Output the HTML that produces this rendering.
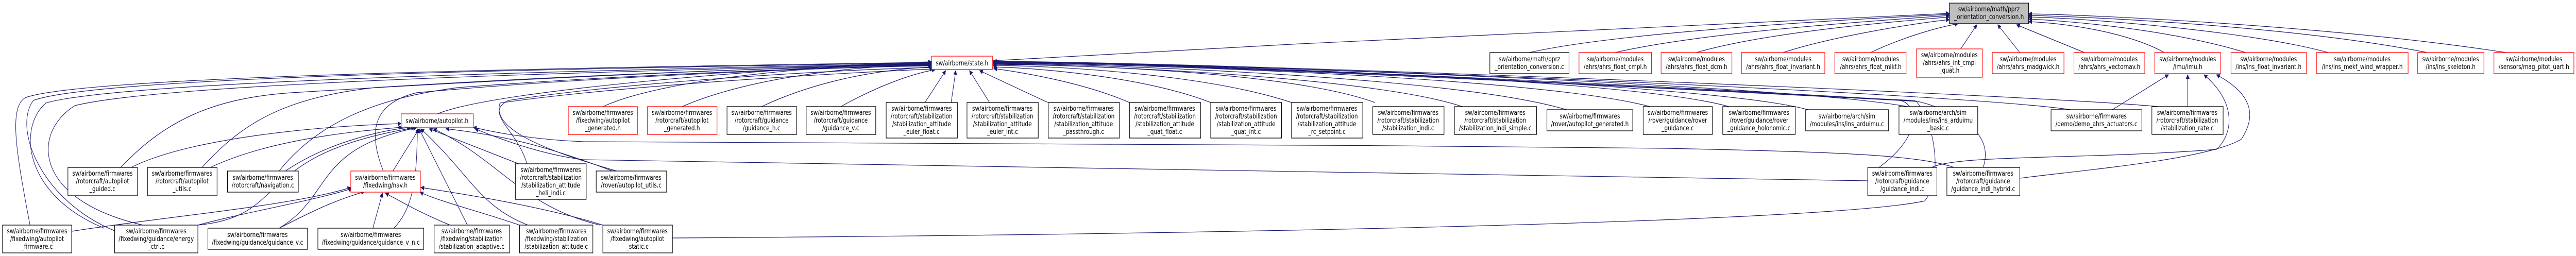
<!DOCTYPE html>
<html><head><meta charset="utf-8"><style>
html,body{margin:0;padding:0;background:#fff;width:100%;height:100%;overflow:hidden;}
svg{display:block;position:absolute;left:0;top:0;width:100vw;height:100vh;}
text{font-family:"DejaVu Sans","Liberation Sans",sans-serif;font-size:13px;fill:#000;text-anchor:middle;}
.n{fill:#fff;stroke:#000;stroke-width:1.3;}
.r{fill:#fff;stroke:#f00;stroke-width:1.3;}
.h{fill:#bfbfbf;stroke:#000;stroke-width:1.3;}
.e{fill:none;stroke:#191970;stroke-width:1.2;marker-end:url(#a);}
</style></head><body>
<svg viewBox="0 0 6183 497" preserveAspectRatio="none" xmlns="http://www.w3.org/2000/svg" overflow="hidden">
<defs><marker id="a" viewBox="0 0 10 10" refX="9" refY="5" markerWidth="9" markerHeight="9" markerUnits="userSpaceOnUse" orient="auto"><path d="M0,0 L10,5 L0,10 z" fill="#191970"/></marker></defs>

<path class="e" d="M3671,102 C3900,60 4500,35 4679,28"/>
<path class="e" d="M3877,102 C4100,60 4550,38 4679,30"/>
<path class="e" d="M4072,102 C4250,60 4580,40 4679,33"/>
<path class="e" d="M4280,102 C4400,70 4600,45 4679,38"/>
<path class="e" d="M4490,102 C4560,75 4640,55 4700,46"/>
<path class="e" d="M4706,95 L4745,48"/>
<path class="e" d="M4848,102 L4795,48"/>
<path class="e" d="M5003,102 L4840,48"/>
<path class="e" d="M5195,102 C5100,60 4950,45 4869,42"/>
<path class="e" d="M5390,102 C5200,55 4950,40 4869,37"/>
<path class="e" d="M5588,102 C5400,60 5000,35 4869,33"/>
<path class="e" d="M5826,102 C5500,50 5000,32 4869,30"/>
<path class="e" d="M6015,102 C5600,50 5000,28 4869,27"/>
<path class="e" d="M2382,118 C3200,80 4300,35 4679,26"/>

<path class="e" d="M1050,221 C1200,170 2000,125 2236,120"/>
<path class="e" d="M1447,207 C1600,150 2000,125 2236,123"/>
<path class="e" d="M1637,207 C1800,150 2050,128 2236,125"/>
<path class="e" d="M1828,207 C1950,160 2100,135 2238,130"/>
<path class="e" d="M2018,207 C2100,170 2180,145 2245,135"/>
<path class="e" d="M2220,199 L2270,137"/>
<path class="e" d="M2283,199 L2294,137"/>
<path class="e" d="M2375,199 L2327,137"/>
<path class="e" d="M2515,199 L2351,137"/>
<path class="e" d="M2711,199 C2600,160 2450,140 2385,133"/>
<path class="e" d="M2906,199 C2750,150 2500,132 2384,130"/>
<path class="e" d="M3100,199 C2900,145 2550,128 2384,127"/>
<path class="e" d="M3300,199 C3100,140 2600,126 2384,125"/>
<path class="e" d="M3510,207 C3300,150 2650,127 2384,124"/>
<path class="e" d="M3760,213 C3500,150 2700,126 2384,123"/>
<path class="e" d="M3960,207 C3700,150 2750,125 2384,122"/>
<path class="e" d="M4150,207 C3900,150 2800,124 2384,121"/>
<path class="e" d="M4340,213 C4100,160 2850,124 2384,121"/>
<path class="e" d="M4578,207 C4300,165 2900,123 2384,120"/>
<path class="e" d="M4970,213 C4700,180 2950,122 2384,120"/>
<path class="e" d="M5180,207 C4900,185 3000,122 2384,119"/>
<path class="e" d="M4510,325 C4620,260 4600,200 4560,195 C4200,180 2900,125 2384,119"/>
<path class="e" d="M4760,325 C4800,230 4600,195 4590,195 C4200,180 2950,124 2384,119"/>
<path class="e" d="M1614,462 C3000,455 4400,430 4620,390 C4660,350 4650,250 4600,197 C4300,180 3000,125 2384,119"/>
<path class="e" d="M72,437 C40,300 20,210 60,190 C200,145 1500,130 2236,121"/>
<path class="e" d="M275,448 C100,390 30,250 80,195 C250,145 1500,132 2236,122"/>
<path class="e" d="M250,443 C60,380 40,250 110,200 C300,155 1500,135 2236,123"/>
<path class="e" d="M380,443 C80,400 70,260 180,205 C400,160 1500,137 2236,124"/>
<path class="e" d="M290,325 C400,230 520,190 700,180 C1100,160 1800,130 2236,125"/>
<path class="e" d="M485,325 C580,240 680,190 900,170 C1400,145 1900,130 2236,126"/>
<path class="e" d="M670,332 C760,240 900,190 1100,170 C1500,145 2000,130 2236,127"/>
<path class="e" d="M920,332 C880,250 900,200 1000,180 C1400,150 2000,130 2236,128"/>
<path class="e" d="M1265,318 C1240,250 1160,220 1220,195 C1500,160 2000,135 2238,131"/>
<path class="e" d="M1480,332 C1300,290 1180,250 1200,200 C1500,165 2050,140 2240,134"/>

<path class="e" d="M315,325 C450,270 750,245 963,240"/>
<path class="e" d="M505,325 C650,270 850,255 965,247"/>
<path class="e" d="M685,332 C780,280 900,255 985,247"/>
<path class="e" d="M943,332 L1006,250"/>
<path class="e" d="M475,437 C700,420 600,300 995,248"/>
<path class="e" d="M670,443 C800,380 750,290 1000,248"/>
<path class="e" d="M945,443 C1000,400 1000,320 1002,250"/>
<path class="e" d="M1122,437 L1006,250"/>
<path class="e" d="M1267,437 C1150,400 1130,340 1010,250"/>
<path class="e" d="M1440,437 C1250,400 1200,310 1040,250"/>
<path class="e" d="M1245,318 L1030,250"/>
<path class="e" d="M1470,332 C1300,280 1200,262 1070,250"/>
<path class="e" d="M4483,351 C3500,340 2300,320 1400,310 C1300,300 1200,270 1140,250"/>
<path class="e" d="M4690,325 C4600,300 4400,295 4000,288 C3000,278 1700,278 1400,275 C1300,272 1200,260 1136,247"/>

<path class="e" d="M172,449 C400,420 700,400 842,364"/>
<path class="e" d="M475,437 C600,410 750,390 845,366"/>
<path class="e" d="M670,443 C750,410 800,390 875,372"/>
<path class="e" d="M895,443 L918,375"/>
<path class="e" d="M1080,437 C1000,410 960,390 925,375"/>
<path class="e" d="M1247,437 C1150,410 1050,390 1008,373"/>
<path class="e" d="M1447,437 C1300,400 1100,375 1010,364"/>

<path class="e" d="M5070,213 L5205,145"/>
<path class="e" d="M5251,207 L5251,145"/>
<path class="e" d="M4636,325 C4700,300 5000,310 5320,290 C5360,260 5370,200 5290,145"/>
<path class="e" d="M4848,346 C5000,330 5300,310 5380,270 C5420,220 5400,180 5320,145"/>

<rect class="h" x="4679" y="6" width="190" height="40"/>
<text x="4774" y="22">sw/airborne/math/pprz</text><text x="4774" y="37">_orientation_conversion.h</text>
<rect class="r" x="2236" y="109" width="146" height="26"/>
<text x="2309" y="127">sw/airborne/state.h</text>
<rect class="r" x="963" y="221" width="173" height="26"/>
<text x="1049" y="239">sw/airborne/autopilot.h</text>
<rect class="r" x="842" y="332" width="167" height="41"/>
<text x="925" y="349">sw/airborne/firmwares</text><text x="925" y="364">/fixedwing/nav.h</text>

<rect class="n" x="3576" y="102" width="190" height="41"/>
<text x="3671" y="119">sw/airborne/math/pprz</text><text x="3671" y="134">_orientation_conversion.c</text>
<rect class="r" x="3790" y="102" width="174" height="41"/>
<text x="3877" y="119">sw/airborne/modules</text><text x="3877" y="134">/ahrs/ahrs_float_cmpl.h</text>
<rect class="r" x="3987" y="102" width="170" height="41"/>
<text x="4072" y="119">sw/airborne/modules</text><text x="4072" y="134">/ahrs/ahrs_float_dcm.h</text>
<rect class="r" x="4180" y="102" width="200" height="41"/>
<text x="4280" y="119">sw/airborne/modules</text><text x="4280" y="134">/ahrs/ahrs_float_invariant.h</text>
<rect class="r" x="4404" y="102" width="171" height="41"/>
<text x="4490" y="119">sw/airborne/modules</text><text x="4490" y="134">/ahrs/ahrs_float_mlkf.h</text>
<rect class="r" x="4600" y="95" width="158" height="55"/>
<text x="4679" y="111">sw/airborne/modules</text><text x="4679" y="126">/ahrs/ahrs_int_cmpl</text><text x="4679" y="141">_quat.h</text>
<rect class="r" x="4782" y="102" width="172" height="41"/>
<text x="4868" y="119">sw/airborne/modules</text><text x="4868" y="134">/ahrs/ahrs_madgwick.h</text>
<rect class="r" x="4978" y="102" width="170" height="41"/>
<text x="5063" y="119">sw/airborne/modules</text><text x="5063" y="134">/ahrs/ahrs_vectornav.h</text>
<rect class="r" x="5172" y="102" width="158" height="41"/>
<text x="5251" y="119">sw/airborne/modules</text><text x="5251" y="134">/imu/imu.h</text>
<rect class="r" x="5355" y="102" width="181" height="41"/>
<text x="5445" y="119">sw/airborne/modules</text><text x="5445" y="134">/ins/ins_float_invariant.h</text>
<rect class="r" x="5560" y="102" width="220" height="41"/>
<text x="5670" y="119">sw/airborne/modules</text><text x="5670" y="134">/ins/ins_mekf_wind_wrapper.h</text>
<rect class="r" x="5803" y="102" width="159" height="41"/>
<text x="5882" y="119">sw/airborne/modules</text><text x="5882" y="134">/ins/ins_skeleton.h</text>
<rect class="r" x="5986" y="102" width="192" height="41"/>
<text x="6082" y="119">sw/airborne/modules</text><text x="6082" y="134">/sensors/mag_pitot_uart.h</text>

<rect class="r" x="1364" y="207" width="166" height="54"/>
<text x="1447" y="223">sw/airborne/firmwares</text><text x="1447" y="238">/fixedwing/autopilot</text><text x="1447" y="253">_generated.h</text>
<rect class="r" x="1554" y="207" width="167" height="54"/>
<text x="1637" y="223">sw/airborne/firmwares</text><text x="1637" y="238">/rotorcraft/autopilot</text><text x="1637" y="253">_generated.h</text>
<rect class="n" x="1745" y="207" width="167" height="54"/>
<text x="1828" y="223">sw/airborne/firmwares</text><text x="1828" y="238">/rotorcraft/guidance</text><text x="1828" y="253">/guidance_h.c</text>
<rect class="n" x="1935" y="207" width="167" height="54"/>
<text x="2018" y="223">sw/airborne/firmwares</text><text x="2018" y="238">/rotorcraft/guidance</text><text x="2018" y="253">/guidance_v.c</text>
<rect class="n" x="2127" y="199" width="171" height="69"/>
<text x="2212" y="215">sw/airborne/firmwares</text><text x="2212" y="230">/rotorcraft/stabilization</text><text x="2212" y="245">/stabilization_attitude</text><text x="2212" y="260">_euler_float.c</text>
<rect class="n" x="2321" y="199" width="171" height="69"/>
<text x="2406" y="215">sw/airborne/firmwares</text><text x="2406" y="230">/rotorcraft/stabilization</text><text x="2406" y="245">/stabilization_attitude</text><text x="2406" y="260">_euler_int.c</text>
<rect class="n" x="2516" y="199" width="171" height="69"/>
<text x="2601" y="215">sw/airborne/firmwares</text><text x="2601" y="230">/rotorcraft/stabilization</text><text x="2601" y="245">/stabilization_attitude</text><text x="2601" y="260">_passthrough.c</text>
<rect class="n" x="2711" y="199" width="171" height="69"/>
<text x="2796" y="215">sw/airborne/firmwares</text><text x="2796" y="230">/rotorcraft/stabilization</text><text x="2796" y="245">/stabilization_attitude</text><text x="2796" y="260">_quat_float.c</text>
<rect class="n" x="2906" y="199" width="170" height="69"/>
<text x="2991" y="215">sw/airborne/firmwares</text><text x="2991" y="230">/rotorcraft/stabilization</text><text x="2991" y="245">/stabilization_attitude</text><text x="2991" y="260">_quat_int.c</text>
<rect class="n" x="3100" y="199" width="171" height="69"/>
<text x="3185" y="215">sw/airborne/firmwares</text><text x="3185" y="230">/rotorcraft/stabilization</text><text x="3185" y="245">/stabilization_attitude</text><text x="3185" y="260">_rc_setpoint.c</text>
<rect class="n" x="3295" y="207" width="171" height="54"/>
<text x="3380" y="223">sw/airborne/firmwares</text><text x="3380" y="238">/rotorcraft/stabilization</text><text x="3380" y="253">/stabilization_indi.c</text>
<rect class="n" x="3491" y="207" width="197" height="54"/>
<text x="3589" y="223">sw/airborne/firmwares</text><text x="3589" y="238">/rotorcraft/stabilization</text><text x="3589" y="253">/stabilization_indi_simple.c</text>
<rect class="n" x="3713" y="213" width="206" height="41"/>
<text x="3816" y="230">sw/airborne/firmwares</text><text x="3816" y="245">/rover/autopilot_generated.h</text>
<rect class="n" x="3944" y="207" width="166" height="54"/>
<text x="4027" y="223">sw/airborne/firmwares</text><text x="4027" y="238">/rover/guidance/rover</text><text x="4027" y="253">_guidance.c</text>
<rect class="n" x="4135" y="207" width="174" height="54"/>
<text x="4222" y="223">sw/airborne/firmwares</text><text x="4222" y="238">/rover/guidance/rover</text><text x="4222" y="253">_guidance_holonomic.c</text>
<rect class="n" x="4334" y="213" width="199" height="41"/>
<text x="4433" y="230">sw/airborne/arch/sim</text><text x="4433" y="245">/modules/ins/ins_arduimu.c</text>
<rect class="n" x="4558" y="207" width="189" height="54"/>
<text x="4652" y="223">sw/airborne/arch/sim</text><text x="4652" y="238">/modules/ins/ins_arduimu</text><text x="4652" y="253">_basic.c</text>
<rect class="n" x="4923" y="213" width="218" height="41"/>
<text x="5032" y="230">sw/airborne/firmwares</text><text x="5032" y="245">/demo/demo_ahrs_actuators.c</text>
<rect class="n" x="5165" y="207" width="171" height="54"/>
<text x="5250" y="223">sw/airborne/firmwares</text><text x="5250" y="238">/rotorcraft/stabilization</text><text x="5250" y="253">/stabilization_rate.c</text>

<rect class="n" x="163" y="325" width="167" height="55"/>
<text x="246" y="341">sw/airborne/firmwares</text><text x="246" y="356">/rotorcraft/autopilot</text><text x="246" y="371">_guided.c</text>
<rect class="n" x="354" y="325" width="167" height="55"/>
<text x="437" y="341">sw/airborne/firmwares</text><text x="437" y="356">/rotorcraft/autopilot</text><text x="437" y="371">_utils.c</text>
<rect class="n" x="546" y="332" width="170" height="41"/>
<text x="631" y="349">sw/airborne/firmwares</text><text x="631" y="364">/rotorcraft/navigation.c</text>
<rect class="n" x="1237" y="318" width="170" height="69"/>
<text x="1322" y="334">sw/airborne/firmwares</text><text x="1322" y="349">/rotorcraft/stabilization</text><text x="1322" y="364">/stabilization_attitude</text><text x="1322" y="379">_heli_indi.c</text>
<rect class="n" x="1431" y="332" width="169" height="41"/>
<text x="1515" y="349">sw/airborne/firmwares</text><text x="1515" y="364">/rover/autopilot_utils.c</text>
<rect class="n" x="4483" y="325" width="166" height="55"/>
<text x="4566" y="341">sw/airborne/firmwares</text><text x="4566" y="356">/rotorcraft/guidance</text><text x="4566" y="371">/guidance_indi.c</text>
<rect class="n" x="4673" y="325" width="175" height="55"/>
<text x="4760" y="341">sw/airborne/firmwares</text><text x="4760" y="356">/rotorcraft/guidance</text><text x="4760" y="371">/guidance_indi_hybrid.c</text>

<rect class="n" x="6" y="437" width="166" height="54"/>
<text x="89" y="453">sw/airborne/firmwares</text><text x="89" y="468">/fixedwing/autopilot</text><text x="89" y="483">_firmware.c</text>
<rect class="n" x="275" y="437" width="200" height="54"/>
<text x="375" y="453">sw/airborne/firmwares</text><text x="375" y="468">/fixedwing/guidance/energy</text><text x="375" y="483">_ctrl.c</text>
<rect class="n" x="499" y="443" width="239" height="41"/>
<text x="618" y="460">sw/airborne/firmwares</text><text x="618" y="475">/fixedwing/guidance/guidance_v.c</text>
<rect class="n" x="763" y="443" width="254" height="41"/>
<text x="890" y="460">sw/airborne/firmwares</text><text x="890" y="475">/fixedwing/guidance/guidance_v_n.c</text>
<rect class="n" x="1042" y="437" width="181" height="54"/>
<text x="1132" y="453">sw/airborne/firmwares</text><text x="1132" y="468">/fixedwing/stabilization</text><text x="1132" y="483">/stabilization_adaptive.c</text>
<rect class="n" x="1247" y="437" width="176" height="54"/>
<text x="1335" y="453">sw/airborne/firmwares</text><text x="1335" y="468">/fixedwing/stabilization</text><text x="1335" y="483">/stabilization_attitude.c</text>
<rect class="n" x="1447" y="437" width="167" height="54"/>
<text x="1530" y="453">sw/airborne/firmwares</text><text x="1530" y="468">/fixedwing/autopilot</text><text x="1530" y="483">_static.c</text>
</svg>
</body></html>
